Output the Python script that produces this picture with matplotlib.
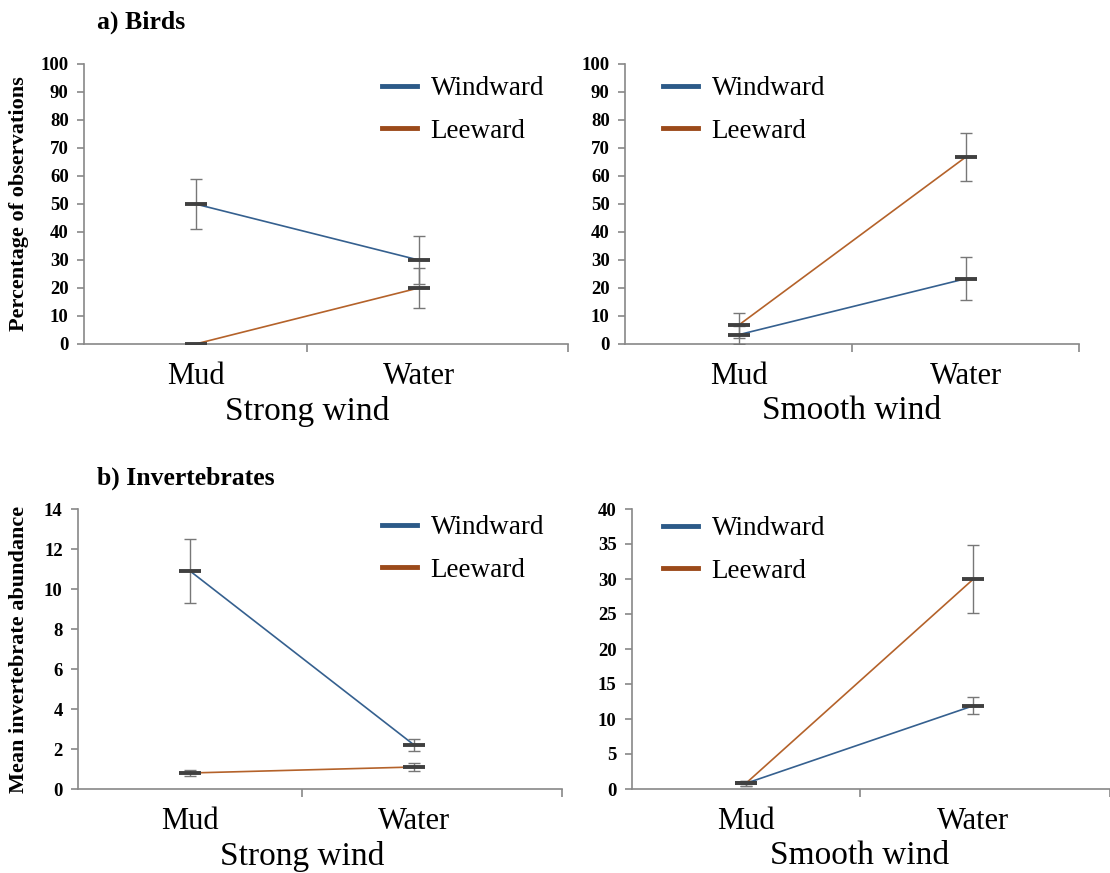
import numpy as np
import matplotlib.pyplot as plt
from matplotlib.lines import Line2D

plt.rcParams['font.family'] = ['Liberation Serif', 'DejaVu Serif']

cats = ['Mud', 'Water']
series = ['Windward', 'Leeward']

# a) Birds, percentage of observations
birds_strong = {'Windward': [50, 30], 'Leeward': [0, 20]}
birds_strong_err = {'Windward': [9, 8.5], 'Leeward': [0, 7.3]}
birds_smooth = {'Windward': [3.3, 23.3], 'Leeward': [6.7, 66.7]}
birds_smooth_err = {'Windward': [3.3, 7.7], 'Leeward': [4.4, 8.5]}

# b) Invertebrates, mean abundance
inv_strong = {'Windward': [10.9, 2.2], 'Leeward': [0.8, 1.1]}
inv_strong_err = {'Windward': [1.6, 0.3], 'Leeward': [0.15, 0.2]}
inv_smooth = {'Windward': [0.8, 11.9], 'Leeward': [0.8, 30.0]}
inv_smooth_err = {'Windward': [0.3, 1.2], 'Leeward': [0.3, 4.9]}

colors = {'Windward': '#35608F', 'Leeward': '#B4622A'}
legend_colors = {'Windward': '#2C5A88', 'Leeward': '#9B4A1A'}

W, H = 1110, 873
fig = plt.figure(figsize=(W / 100, H / 100), dpi=100)


def px_axes(left, right, top, bottom):
    return fig.add_axes([left / W, 1 - bottom / H, (right - left) / W, (bottom - top) / H])


def panel(ax, vals, errs, ymax, ystep, xend, xlabel, leg_xy):
    x = np.arange(len(cats))
    for s in series:
        ax.plot(x, vals[s], color=colors[s], lw=1.2, zorder=2)
        ax.errorbar(x, vals[s], yerr=errs[s], fmt='none', ecolor='#777777',
                    elinewidth=1.0, capsize=4, capthick=1.0, zorder=3)
        ax.plot(x, vals[s], ls='none', marker='_', ms=16, mew=2.8,
                color='#404040', zorder=4)
    ax.set_ylim(0, ymax)
    ax.set_xlim(-0.5, xend)
    ax.set_yticks(np.arange(0, ymax + 0.01, ystep))
    ax.set_xticks(x)
    ax.set_xticklabels(cats, fontsize=22)
    ax.set_xticks([0.5, xend], minor=True)
    ax.tick_params(axis='x', which='major', length=0, pad=13)
    ax.tick_params(axis='x', which='minor', length=6, width=1.2, color='#888888')
    ax.tick_params(axis='y', length=5, width=1.2, color='#888888', pad=6,
                   labelsize=13.5)
    for lab in ax.get_yticklabels():
        lab.set_fontweight('bold')
    for sp in ['top', 'right']:
        ax.spines[sp].set_visible(False)
    for sp in ['left', 'bottom']:
        ax.spines[sp].set_color('#888888')
        ax.spines[sp].set_linewidth(1.2)
    ax.set_xlabel(xlabel, fontsize=24)
    ax.xaxis.set_label_coords((0.5 + 0.5) / (xend + 0.5), -0.185)
    handles = [Line2D([], [], color=legend_colors[s], lw=3.5) for s in series]
    ax.legend(handles, series, loc='upper left', frameon=False, fontsize=19.5,
              bbox_to_anchor=(leg_xy[0] / W, 1 - leg_xy[1] / H),
              bbox_transform=fig.transFigure, borderpad=0, borderaxespad=0,
              handlelength=1.3, handletextpad=0.5, labelspacing=0.65)


a1 = px_axes(84, 568, 64, 344)
a2 = px_axes(625, 1079, 64, 344)
b1 = px_axes(78, 562, 509, 789)
b2 = px_axes(632, 1110, 509, 789)

panel(a1, birds_strong, birds_strong_err, 100, 10, 1.67, 'Strong wind', (382, 76))
panel(a2, birds_smooth, birds_smooth_err, 100, 10, 1.5, 'Smooth wind', (663, 76))
panel(b1, inv_strong, inv_strong_err, 14, 2, 1.66, 'Strong wind', (382, 515))
panel(b2, inv_smooth, inv_smooth_err, 40, 5, 1.6, 'Smooth wind', (663, 516))

a1.set_ylabel('Percentage of observations', fontsize=16, fontweight='bold')
b1.set_ylabel('Mean invertebrate abundance', fontsize=16, fontweight='bold')
a1.yaxis.set_label_coords(-55 / 484, 0.5)
b1.yaxis.set_label_coords(-49 / 484, 0.5)

fig.text(97 / W, 1 - 22 / H, 'a) Birds', fontsize=18.5, fontweight='bold', va='center')
fig.text(97 / W, 1 - 478 / H, 'b) Invertebrates', fontsize=18.5, fontweight='bold', va='center')

fig.savefig('out.png', dpi=100)
